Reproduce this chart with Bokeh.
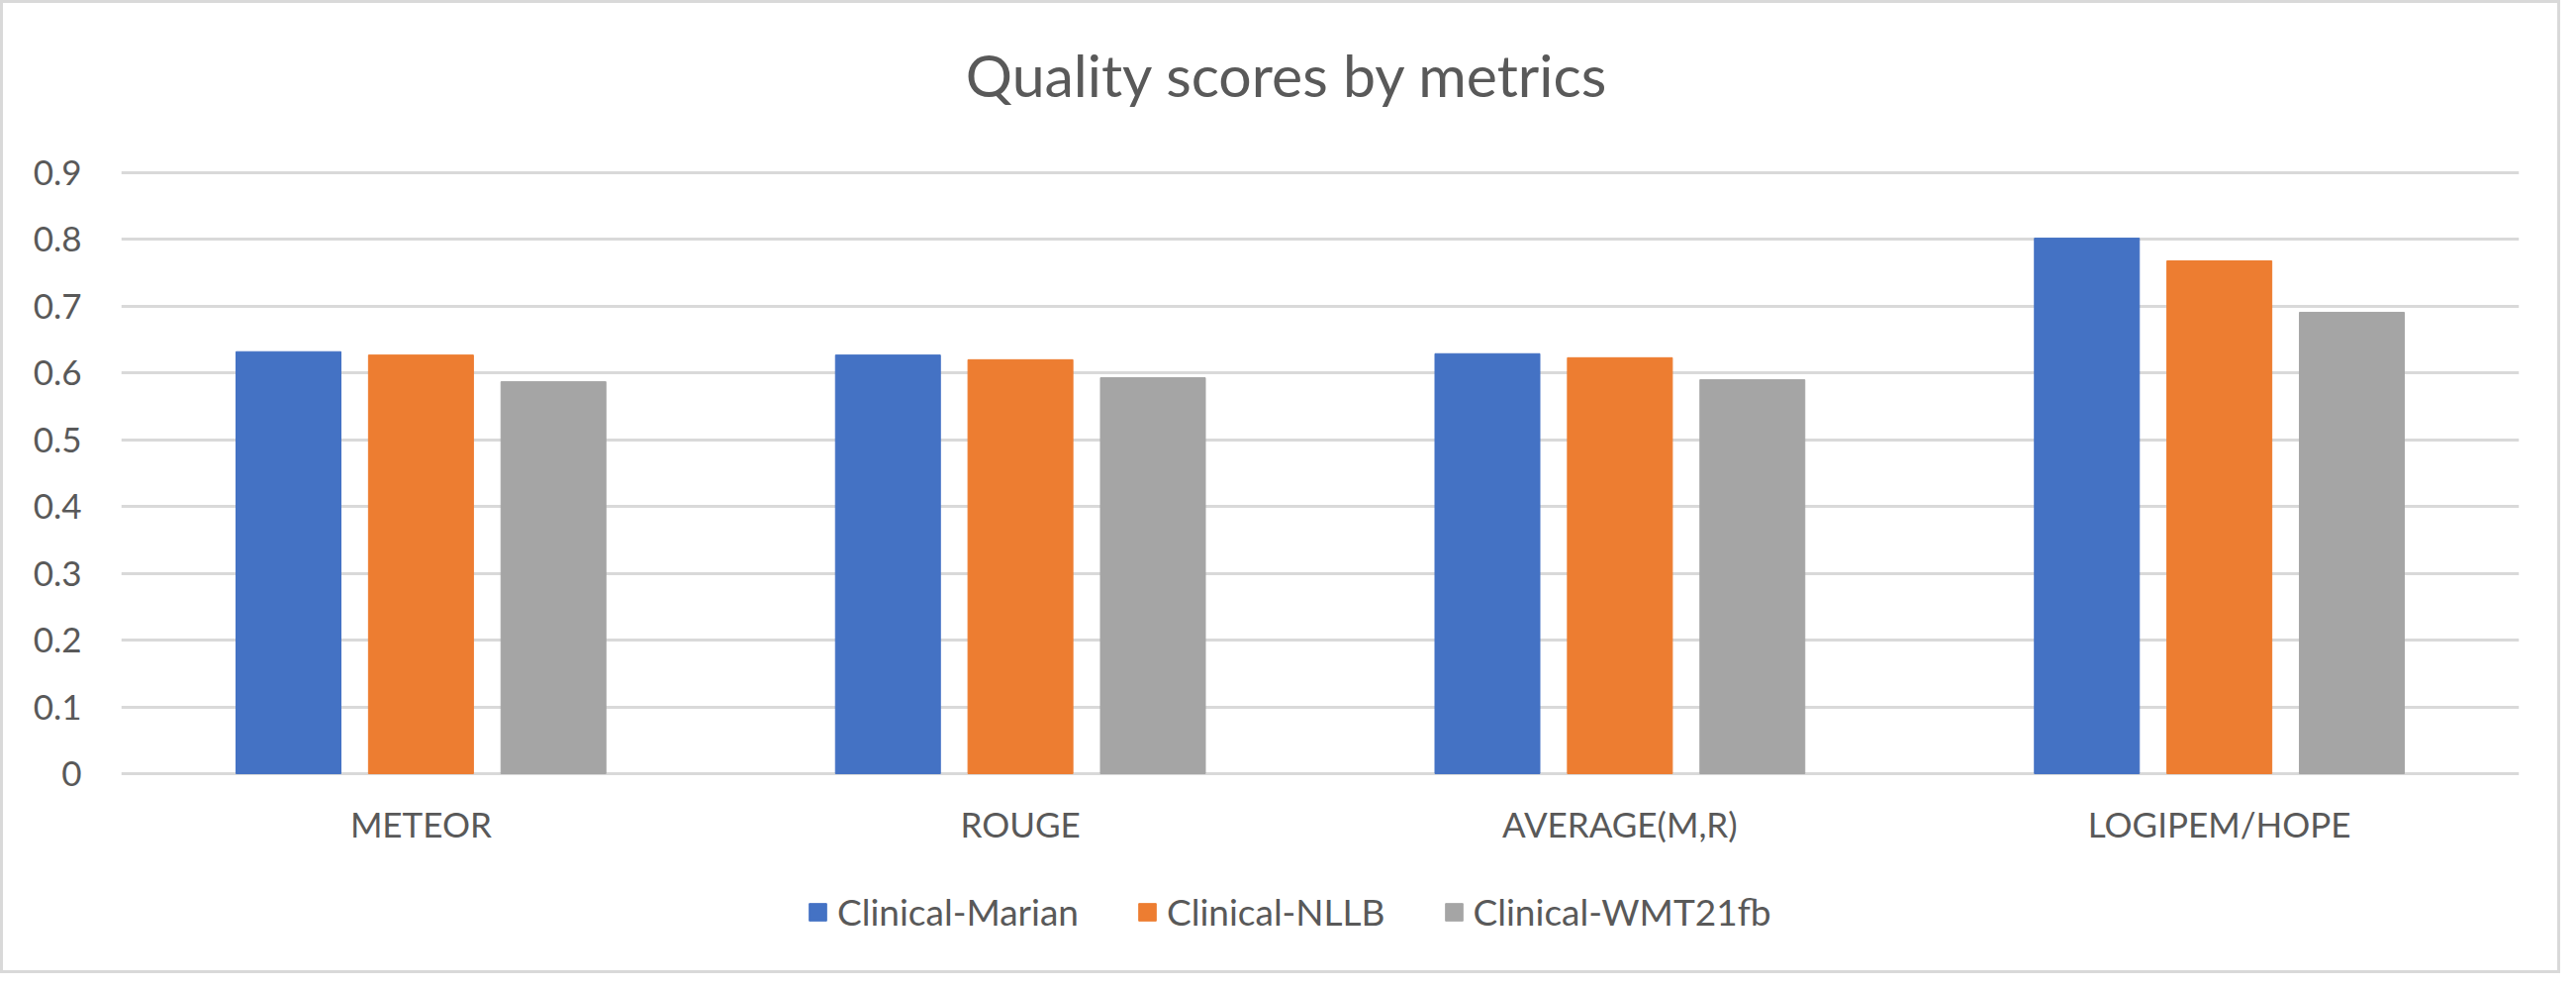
from bokeh.plotting import figure
from bokeh.layouts import column
from bokeh.models import FactorRange, Range1d, FixedTicker, Legend, LegendItem, Label
from bokeh.transform import dodge
from bokeh.embed import file_html
from bokeh.resources import INLINE

# ---- data ----
categories = ["METEOR", "ROUGE", "AVERAGE(M,R)", "LOGIPEM/HOPE"]
series_names = ["Clinical-Marian", "Clinical-NLLB", "Clinical-WMT21fb"]
marian = [0.632, 0.627, 0.629, 0.802]
nllb = [0.627, 0.620, 0.623, 0.768]
wmt21fb = [0.587, 0.593, 0.590, 0.691]
y_ticks = [0, 0.1, 0.2, 0.3, 0.4, 0.5, 0.6, 0.7, 0.8, 0.9]
y_tick_labels = ["0", "0.1", "0.2", "0.3", "0.4", "0.5", "0.6", "0.7", "0.8", "0.9"]
title_text = "Quality scores by metrics"

# ---- styles ----
colors = ["#4472C4", "#ED7D31", "#A5A5A5"]
offsets = [-0.221, 0.0, 0.221]
FONT = "Lato"
TXT = "#595959"
GRID = "#D9D9D9"
W = 2581
H_T, H_A, H_B = 150, 730, 97

data = {"cat": categories, "s0": marian, "s1": nllb, "s2": wmt21fb}


def bare(height, x_range, y_range):
    f = figure(width=W, height=height, x_range=x_range, y_range=y_range,
               x_axis_location=None, y_axis_location=None, min_border=0,
               output_backend="svg", toolbar_location=None)
    f.outline_line_color = None
    f.grid.visible = False
    f.border_fill_color = "white"
    f.background_fill_color = "white"
    return f


# ---- title strip ----
pt = bare(H_T, Range1d(0, W), Range1d(0, H_T))
pt.add_layout(Label(x=909, y=78, text=title_text, text_font=FONT,
                    text_font_size="59px", text_color=TXT,
                    text_align="left", text_baseline="alphabetic"))

# ---- main chart ----
p = figure(x_range=FactorRange(*categories), y_range=Range1d(-0.003, 0.903),
           width=W, height=H_A, output_backend="svg", toolbar_location=None,
           min_border_left=119, min_border_right=39, min_border_top=19,
           min_border_bottom=100)

for i, key in enumerate(["s0", "s1", "s2"]):
    p.vbar(x=dodge("cat", offsets[i], range=p.x_range), top=key, width=0.175,
           source=data, fill_color=colors[i], line_color=colors[i])

p.outline_line_color = None
p.background_fill_color = "white"
p.border_fill_color = "white"
p.xgrid.grid_line_color = None
p.ygrid.grid_line_color = GRID
p.ygrid.grid_line_width = 3
p.yaxis.ticker = FixedTicker(ticks=y_ticks)
p.yaxis.major_label_overrides = {t: l for t, l in zip(y_ticks, y_tick_labels)}

for ax in (p.xaxis[0], p.yaxis[0]):
    ax.axis_line_color = None
    ax.major_tick_line_color = None
    ax.minor_tick_line_color = None
    ax.major_tick_out = 0
    ax.major_tick_in = 0
    ax.major_label_text_font = FONT
    ax.major_label_text_font_size = "35px"
    ax.major_label_text_color = TXT
p.yaxis.major_label_standoff = 40
p.xaxis.major_label_standoff = 27

# ---- legend strip ----
pl = bare(H_B, FactorRange(*categories), Range1d(10, 11))
leg_renderers = []
for i, key in enumerate(["s0", "s1", "s2"]):
    r = pl.vbar(x=dodge("cat", offsets[i], range=pl.x_range), top=key, width=0.175,
                source=data, fill_color=colors[i], line_color=colors[i])
    leg_renderers.append(r)

legend = Legend(items=[LegendItem(label=n, renderers=[r]) for n, r in zip(series_names, leg_renderers)],
                orientation="horizontal", location=(693, 37),
                glyph_width=22, glyph_height=22, label_standoff=9, spacing=58,
                label_text_font=FONT, label_text_font_size="37px",
                label_text_color=TXT, border_line_color=None,
                background_fill_alpha=0, padding=0, margin=0)
pl.add_layout(legend, "center")

layout = column(pt, p, pl, spacing=0, styles={"border": "3px solid #D9D9D9"})

open("out.html", "w").write(file_html(layout, INLINE))
